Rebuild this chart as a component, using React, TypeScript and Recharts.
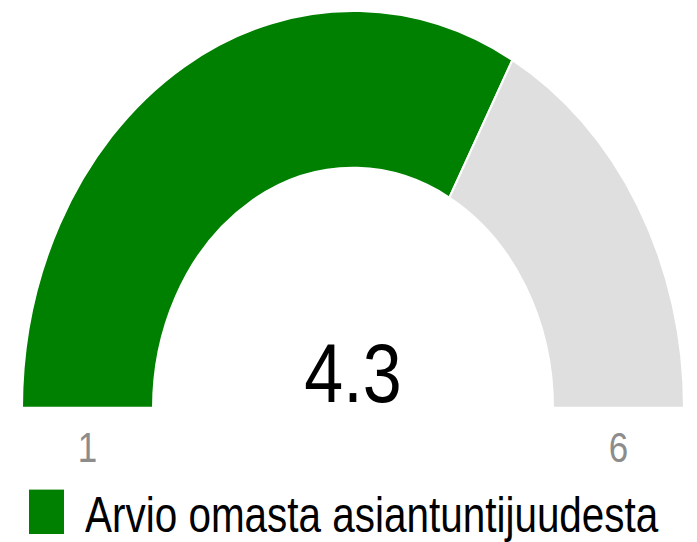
import { PieChart, Pie, Cell, Legend } from 'recharts'

// gauge scale and reading
const scaleMin = 1
const scaleMax = 6
const score = 4.3
const seriesName = 'Arvio omasta asiantuntijuudesta'
const tickLabels = ['1', '6']
const segmentColors = ['#008000', '#dfdfdf']

const segments = [
  { name: seriesName, value: score - scaleMin },
  { name: 'rest', value: scaleMax - score },
]

const W = 697
const H = 452
const CX = 353
const CY = 340
const R_IN = 200
const R_OUT = 331
const FONT = '"Liberation Sans", Arial, sans-serif'

function GaugeLegend() {
  return (
    <div style={{ display: 'flex', alignItems: 'flex-start', fontFamily: FONT, fontSize: 42, lineHeight: '42px', color: '#000' }}>
      <div style={{ width: 35, height: 37, background: segmentColors[0], marginRight: 21, flexShrink: 0 }} />
      <span style={{ whiteSpace: 'nowrap', display: 'inline-block', transform: 'scaleX(0.963)', transformOrigin: '0 0' }}>
        {seriesName}
      </span>
    </div>
  )
}

export default function App() {
  const mid = (R_IN + R_OUT) / 2
  return (
    <div style={{ position: 'absolute', left: 0, top: 0, width: W, height: H, transform: 'scaleY(1.2)', transformOrigin: '0 0' }}>
      <PieChart width={W} height={H} margin={{ top: 0, right: 0, bottom: 0, left: 0 }}>
        <Pie
          data={segments}
          dataKey="value"
          cx={CX}
          cy={CY}
          startAngle={180}
          endAngle={0}
          innerRadius={R_IN}
          outerRadius={R_OUT}
          stroke="#fff"
          strokeWidth={2}
          isAnimationActive={false}
        >
          {segments.map((s, i) => (
            <Cell key={s.name} fill={segmentColors[i]} />
          ))}
        </Pie>
        <text x={CX} y={335} textAnchor="middle" fontFamily={FONT} fontSize={70} fill="#000">
          {score}
        </text>
        <text x={CX - mid} y={385} textAnchor="middle" fontFamily={FONT} fontSize={35} fill="#8c8c8c">
          {tickLabels[0]}
        </text>
        <text x={CX + mid} y={385} textAnchor="middle" fontFamily={FONT} fontSize={35} fill="#8c8c8c">
          {tickLabels[1]}
        </text>
        <Legend
          content={() => <GaugeLegend />}
          wrapperStyle={{ position: 'absolute', left: 29, top: 408, width: 'auto' }}
        />
      </PieChart>
    </div>
  )
}
